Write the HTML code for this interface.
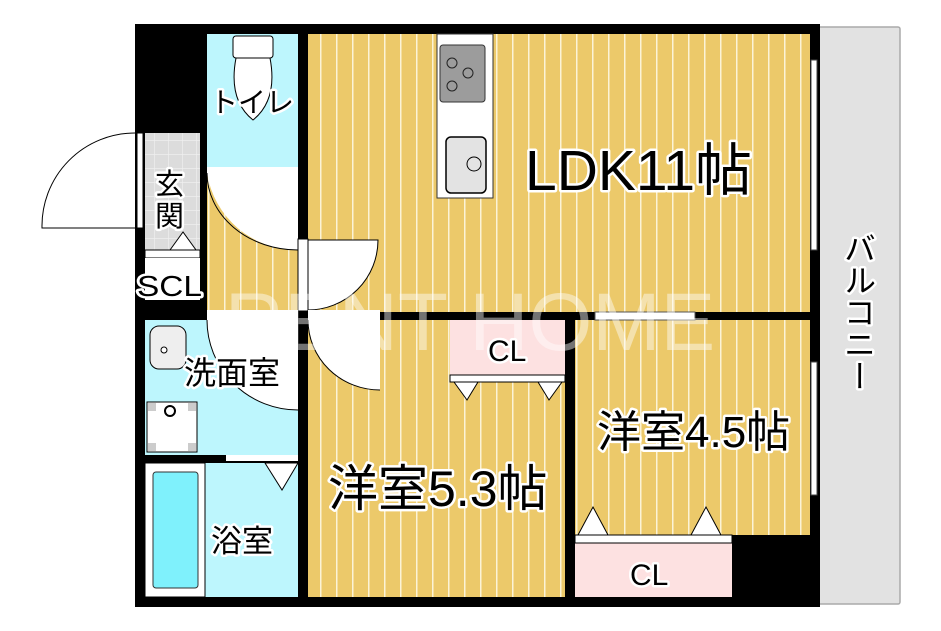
<!DOCTYPE html>
<html><head><meta charset="utf-8"><style>
html,body{margin:0;padding:0;background:#fff;width:941px;height:631px;overflow:hidden}
svg{display:block}
text{font-family:"Liberation Sans","Noto Sans CJK JP",sans-serif;fill:#000;stroke:#fff;stroke-width:5px;paint-order:stroke;stroke-linejoin:round}
</style></head><body>
<svg width="941" height="631" viewBox="0 0 941 631" xmlns="http://www.w3.org/2000/svg">
<defs>
<pattern id="wood" width="16" height="10" patternUnits="userSpaceOnUse">
<rect width="16" height="10" fill="#ecc96a"/><rect x="0" width="1.5" height="10" fill="#fbf3d6"/>
</pattern>
<pattern id="tile" width="14" height="14" patternUnits="userSpaceOnUse">
<rect width="14" height="14" fill="#dcdcdc"/><path d="M0 0H14M0 0V14" stroke="#f2f2f2" stroke-width="1.2"/>
</pattern>
</defs>
<rect x="818" y="27" width="82" height="577" fill="#e2e2e2" stroke="#aaa" stroke-width="1.5" rx="2"/>
<rect x="135" y="24" width="685" height="583" fill="#000"/>
<rect x="308" y="34" width="502" height="278" fill="url(#wood)"/>
<rect x="308" y="320" width="257" height="277" fill="url(#wood)"/>
<rect x="575" y="320" width="235" height="215" fill="url(#wood)"/>
<rect x="207" y="173" width="91" height="137" fill="url(#wood)"/>
<rect x="207" y="34" width="91" height="133" fill="#bdf6fd"/>
<rect x="207" y="167" width="91" height="6" fill="#fff"/>
<rect x="145" y="133" width="55" height="117" fill="url(#tile)"/>
<rect x="145" y="250" width="55" height="8" fill="#fff" stroke="#000" stroke-width="1"/>
<rect x="145" y="258" width="55" height="42" fill="#fff"/>
<rect x="145" y="320" width="153" height="135" fill="#bdf6fd"/>
<rect x="145" y="463" width="153" height="134" fill="#bdf6fd"/>
<rect x="145" y="463" width="60" height="134" fill="#fff" stroke="#000" stroke-width="1"/>
<rect x="153" y="472" width="45" height="116" rx="3" fill="#7ff1fc" stroke="#333" stroke-width="1"/>
<rect x="226" y="455" width="72" height="6" fill="#fff"/>
<path d="M265 463 L298 463 L282 490Z" fill="#fff" stroke="#000"/>
<rect x="147" y="402" width="50" height="50" fill="#fff" stroke="#000"/>
<rect x="148" y="403" width="8" height="8" fill="#ccc"/><rect x="188" y="403" width="8" height="8" fill="#ccc"/>
<rect x="148" y="443" width="8" height="8" fill="#ccc"/><rect x="188" y="443" width="8" height="8" fill="#ccc"/>
<circle cx="170" cy="411" r="5" fill="#fff" stroke="#000" stroke-width="2"/>
<rect x="150" y="326" width="36" height="43" rx="9" fill="#eee" stroke="#000"/>
<circle cx="164" cy="350" r="3" fill="#fff" stroke="#000"/>
<rect x="450" y="320" width="115" height="55" fill="#fde1e1"/>
<rect x="450" y="375" width="115" height="7" fill="#fff" stroke="#000" stroke-width="1"/>
<path d="M454 382 L467 400 L478 382Z M538 382 L549 400 L562 382Z" fill="#fff" stroke="#000"/>
<rect x="575" y="543" width="157" height="54" fill="#fde1e1"/>
<rect x="575" y="535" width="157" height="8" fill="#fff" stroke="#000" stroke-width="1"/>
<path d="M578 535 L593 507 L608 535Z M691 535 L706 507 L721 535Z" fill="#fff" stroke="#000"/>
<rect x="437" y="34" width="56" height="164" fill="#fff" stroke="#333"/>
<rect x="440" y="45" width="45" height="57" rx="3" fill="#9c9c9c" stroke="#333"/>
<circle cx="452" cy="63" r="5" fill="none" stroke="#222"/><circle cx="468" cy="73" r="5" fill="none" stroke="#222"/><circle cx="452" cy="86" r="5" fill="none" stroke="#222"/>
<rect x="446" y="137" width="40" height="56" rx="5" fill="#e3e3e3" stroke="#000" stroke-width="1.5"/>
<circle cx="474" cy="164" r="7" fill="none" stroke="#000"/>
<rect x="595" y="312" width="100" height="8" fill="#fff" stroke="#555" stroke-width="1"/>
<path d="M207 173 L298 173 L298 250 A91 91 0 0 1 207 173Z" fill="#fff"/>
<path d="M298 250 A91 77 0 0 1 207 173" fill="none" stroke="#000"/>
<path d="M308 240 L378 240 A70 70 0 0 1 308 310Z" fill="#fff" stroke="#000"/>
<rect x="298" y="239" width="10" height="72" fill="#fff" stroke="#000" stroke-width="1"/>
<rect x="207" y="310" width="91" height="10" fill="#fff"/><rect x="308" y="310" width="72" height="10" fill="#fff"/>
<path d="M207 320 L298 320 L298 410 A91 91 0 0 1 207 320Z" fill="#fff"/>
<path d="M298 410 A91 90 0 0 1 207 320" fill="none" stroke="#000"/>
<path d="M308 320 L380 320 L380 390 A72 72 0 0 1 308 320Z" fill="#fff"/>
<path d="M380 390 A72 70 0 0 1 308 320" fill="none" stroke="#000"/>
<rect x="233" y="36" width="40" height="22" rx="3" fill="#fff" stroke="#000"/>
<path d="M236 58 Q228 100 253 120 Q278 100 270 58Z" fill="#fff" stroke="#000"/>
<path d="M135 133 A93 93 0 0 0 42 228 L135 228" fill="#fff" stroke="#000"/>
<rect x="137" y="133" width="6" height="95" fill="#fff" stroke="#000" stroke-width="1"/>
<path d="M170 250 L183 232 L196 250Z" fill="#fff" stroke="#000"/>
<rect x="811" y="60" width="6" height="190" fill="#fff" stroke="#444" stroke-width="1"/>
<rect x="811" y="362" width="6" height="133" fill="#fff" stroke="#444" stroke-width="1"/>
<text x="470" y="350" font-size="82" text-anchor="middle" style="fill:rgba(255,255,255,0.45);stroke:none">RENT HOME</text>
<text x="210" y="112" font-size="28">トイレ</text>
<text x="155" y="194" font-size="29">玄</text>
<text x="155" y="226" font-size="29">関</text>
<text x="137" y="296" font-size="29" textLength="65" lengthAdjust="spacingAndGlyphs">SCL</text>
<text x="184" y="384" font-size="32">洗面室</text>
<text x="211" y="552" font-size="31">浴室</text>
<text x="525" y="190" font-size="57">LDK11帖</text>
<text x="488" y="361" font-size="30">CL</text>
<text x="328" y="506" font-size="50">洋室5.3帖</text>
<text x="597" y="447" font-size="44">洋室4.5帖</text>
<text x="630" y="585" font-size="30">CL</text>
<text x="858" y="232" font-size="32" style="writing-mode:vertical-rl">バルコニー</text>
</svg>
</body></html>
